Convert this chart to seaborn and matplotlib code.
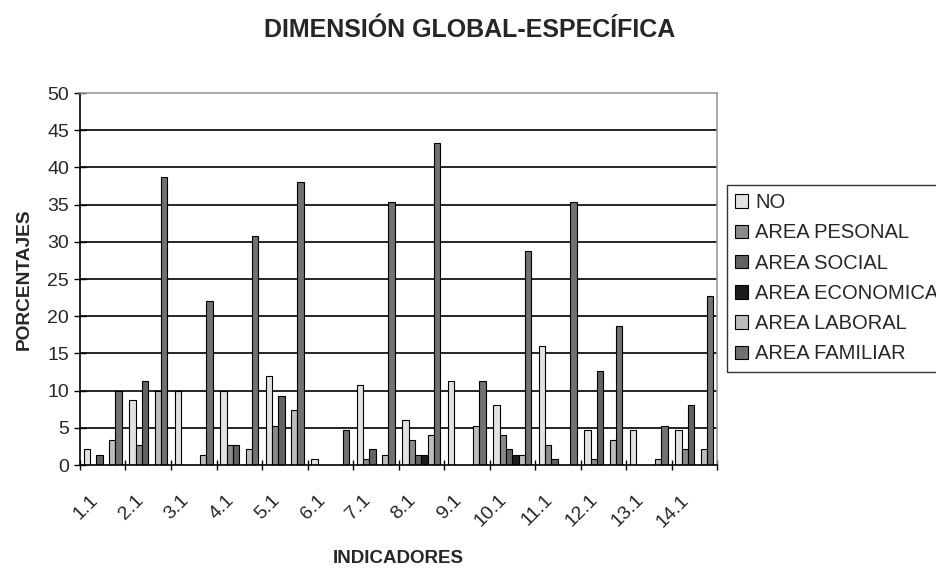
import matplotlib
matplotlib.use("Agg")
import matplotlib.pyplot as plt
import seaborn as sns
import pandas as pd
import numpy as np

categories = ["1.1", "2.1", "3.1", "4.1", "5.1", "6.1", "7.1", "8.1", "9.1", "10.1", "11.1", "12.1", "13.1", "14.1"]
series = ["NO", "AREA PESONAL", "AREA SOCIAL", "AREA ECONOMICA", "AREA LABORAL", "AREA FAMILIAR"]

no_vals        = [2.1, 8.7, 10.0, 10.0, 12.0, 0.8, 10.7, 6.1, 11.3, 8.0, 16.0, 4.7, 4.7, 4.7]
personal_vals  = [0.0, 2.7, 0.0, 2.7, 5.3, 0.0, 0.8, 3.3, 0.0, 4.0, 2.7, 0.8, 0.0, 2.1]
social_vals    = [1.3, 11.3, 0.0, 2.7, 9.3, 0.0, 2.1, 1.3, 0.0, 2.1, 0.8, 12.7, 0.0, 8.0]
economica_vals = [0.0, 0.0, 0.0, 0.0, 0.0, 0.0, 0.0, 1.3, 0.0, 1.3, 0.0, 0.0, 0.0, 0.0]
laboral_vals   = [3.3, 10.0, 1.3, 2.1, 7.4, 0.0, 1.3, 4.0, 5.3, 1.3, 0.0, 3.3, 0.8, 2.1]
familiar_vals  = [10.0, 38.7, 22.0, 30.8, 38.0, 4.7, 35.3, 43.3, 11.3, 28.7, 35.3, 18.7, 5.3, 22.7]

colors = ["#e2e2e2", "#8a8a8a", "#626262", "#1c1c1c", "#bdbdbd", "#717171"]

values = [no_vals, personal_vals, social_vals, economica_vals, laboral_vals, familiar_vals]
rows = []
for s, vals in zip(series, values):
    for c, v in zip(categories, vals):
        rows.append({"Indicador": c, "Serie": s, "Valor": v})
df = pd.DataFrame(rows)

sns.set_style("white")
plt.rcParams["font.family"] = ["Liberation Sans", "DejaVu Sans"]

fig = plt.figure(figsize=(9.37, 5.69), dpi=100)
ax = fig.add_axes([80 / 937, 1 - 465 / 569, (717 - 80) / 937, (465 - 93) / 569])

sns.barplot(data=df, x="Indicador", y="Valor", hue="Serie", order=categories,
            hue_order=series, palette=colors, width=0.83, edgecolor="black",
            linewidth=0.8, ax=ax, errorbar=None, saturation=1)

n = len(categories)
ax.set_ylim(0, 50)
ax.set_xlim(-0.5, n - 0.5)
ax.set_yticks(np.arange(0, 51, 5))
for y in range(5, 50, 5):
    ax.axhline(y, color="black", linewidth=1.2, zorder=0)

# labels sit slightly left of the group centre, as in the reference
ax.set_xticks(np.arange(n) - 0.3)
ax.set_xticklabels(categories, rotation=45, ha="right", rotation_mode="anchor", fontsize=14)
ax.set_xticks(np.arange(-0.5, n, 1), minor=True)
ax.tick_params(axis="x", which="major", length=0, pad=19)
ax.tick_params(axis="x", which="minor", length=7, width=1, color="black", direction="inout", bottom=True)
ax.tick_params(axis="y", length=8, width=1, color="black", direction="inout", left=True, labelsize=14, pad=4)

for side in ["top", "right"]:
    ax.spines[side].set_color("#999999")
    ax.spines[side].set_linewidth(1.2)
for side in ["left", "bottom"]:
    ax.spines[side].set_color("black")
    ax.spines[side].set_linewidth(1.2)

ax.set_xlabel("INDICADORES", fontsize=13.5, fontweight="bold", labelpad=14)
ax.set_ylabel("PORCENTAJES", fontsize=13.8, fontweight="bold", labelpad=10)

fig.suptitle("DIMENSIÓN GLOBAL-ESPECÍFICA", x=470 / 937, y=1 - 18 / 569, va="top",
             fontsize=18, fontweight="bold")

handles, labels = ax.get_legend_handles_labels()
leg = ax.legend(handles, labels, loc="upper left", bbox_to_anchor=(727 / 937, 1 - 185 / 569),
                bbox_transform=fig.transFigure, frameon=True, fancybox=False,
                edgecolor="black", fontsize=14.5, handlelength=0.65, handleheight=0.65,
                handletextpad=0.35, labelspacing=0.56, borderpad=0.4, borderaxespad=0)
leg.get_frame().set_linewidth(1.0)

fig.savefig("out.png", dpi=100)
